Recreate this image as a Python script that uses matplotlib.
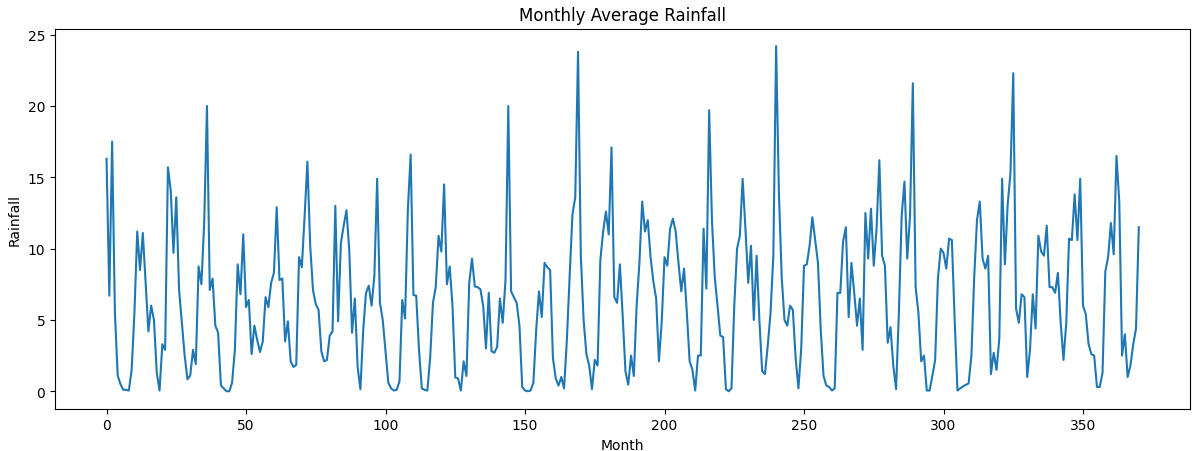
import matplotlib
matplotlib.use("Agg")
import matplotlib.pyplot as plt
import numpy as np

rainfall = [
    16.3, 6.7, 17.5, 5.5, 1.1, 0.5, 0.1, 0.1, 0.05, 1.5,
    5.5, 11.2, 8.5, 11.1, 7.6, 4.2, 6.0, 5.0, 1.3, 0.05,
    3.3, 2.9, 15.7, 14.1, 9.7, 13.6, 7.1, 4.8, 2.5, 0.84,
    1.1, 2.9, 1.9, 8.75, 7.5, 11.8, 20.0, 7.1, 7.9, 4.6,
    4.1, 0.4, 0.2, 0.0, 0.0, 0.6, 2.9, 8.9, 6.8, 11.0,
    5.9, 6.4, 2.6, 4.6, 3.6, 2.75, 3.5, 6.6, 5.9, 7.6,
    8.3, 12.9, 7.8, 7.9, 3.5, 4.9, 2.1, 1.7, 1.85, 9.4,
    8.7, 12.3, 16.1, 10.2, 7.1, 6.1, 5.7, 2.8, 2.1, 2.2,
    3.9, 4.2, 13.0, 4.9, 10.4, 11.6, 12.7, 9.9, 4.1, 6.5,
    1.7, 0.14, 4.3, 6.9, 7.4, 6.0, 8.1, 14.9, 6.2, 5.0,
    2.8, 0.6, 0.2, 0.05, 0.1, 0.7, 6.4, 5.1, 12.7, 16.6,
    6.75, 6.7, 2.9, 0.2, 0.1, 0.05, 2.35, 6.2, 7.3, 10.9,
    9.8, 14.5, 7.5, 8.75, 6.0, 0.97, 0.9, 0.05, 2.1, 1.07,
    7.6, 9.3, 7.35, 7.3, 7.15, 6.0, 3.0, 6.9, 2.8, 2.7,
    3.1, 6.5, 4.8, 7.8, 20.0, 7.0, 6.6, 6.2, 4.6, 0.3,
    0.05, 0.0, 0.05, 0.6, 4.3, 7.0, 5.2, 9.0, 8.7, 8.5,
    2.35, 0.9, 0.4, 1.0, 0.2, 3.6, 8.1, 12.4, 13.6, 23.8,
    9.5, 5.0, 2.6, 1.8, 0.15, 2.2, 1.8, 9.2, 11.2, 12.6,
    11.0, 17.1, 6.6, 6.2, 8.9, 5.3, 1.4, 0.46, 2.5, 1.07,
    6.0, 9.0, 13.3, 11.2, 12.0, 9.4, 7.7, 6.5, 2.1, 4.9,
    9.4, 8.8, 11.4, 12.1, 11.2, 9.0, 7.0, 8.6, 5.5, 2.1,
    1.5, 0.05, 2.5, 2.5, 11.4, 7.2, 19.7, 12.0, 8.0, 6.0,
    3.9, 3.8, 0.15, 0.0, 0.2, 6.0, 10.0, 10.9, 14.9, 11.4,
    7.6, 10.2, 5.0, 9.5, 5.0, 1.4, 1.2, 3.2, 5.5, 9.5,
    24.2, 13.9, 8.0, 5.0, 4.6, 6.0, 5.7, 2.3, 0.2, 3.0,
    8.8, 8.9, 10.2, 12.2, 10.6, 9.0, 4.3, 1.07, 0.4, 0.3,
    0.05, 0.2, 6.9, 6.9, 10.5, 11.5, 5.2, 9.0, 6.9, 4.6,
    6.5, 2.9, 12.5, 9.3, 12.8, 8.8, 11.4, 16.2, 9.5, 8.8,
    3.4, 4.5, 1.8, 0.15, 5.5, 12.3, 14.7, 9.3, 12.3, 21.6,
    7.3, 5.5, 2.1, 2.5, 0.05, 0.05, 1.07, 2.2, 7.9, 10.0,
    9.7, 8.6, 10.7, 10.6, 5.0, 0.05, 0.2, 0.35, 0.45, 0.55,
    2.5, 8.0, 12.0, 13.3, 9.3, 8.6, 9.5, 1.2, 2.7, 1.5,
    3.7, 14.9, 8.9, 13.1, 15.3, 22.3, 5.8, 4.8, 6.8, 6.6,
    1.0, 2.9, 6.8, 4.4, 10.9, 9.8, 9.5, 11.6, 7.3, 7.3,
    6.9, 8.3, 4.8, 2.2, 4.8, 10.7, 10.6, 13.8, 10.6, 14.9,
    6.0, 5.4, 3.3, 2.6, 2.5, 0.3, 0.3, 1.3, 8.4, 9.4,
    11.8, 9.6, 16.5, 13.3, 2.5, 4.0, 1.0, 1.8, 3.3, 4.4,
    11.5,
]
months = np.arange(len(rainfall))

fig = plt.figure(figsize=(11.94, 4.52), dpi=100)
ax = fig.add_axes([0.046, 0.094, 0.951, 0.840])
ax.plot(months, rainfall, color="#1f77b4", linewidth=1.5)
ax.set_title("Monthly Average Rainfall")
ax.set_xlabel("Month")
ax.set_ylabel("Rainfall")
fig.savefig("out.png", dpi=100)
